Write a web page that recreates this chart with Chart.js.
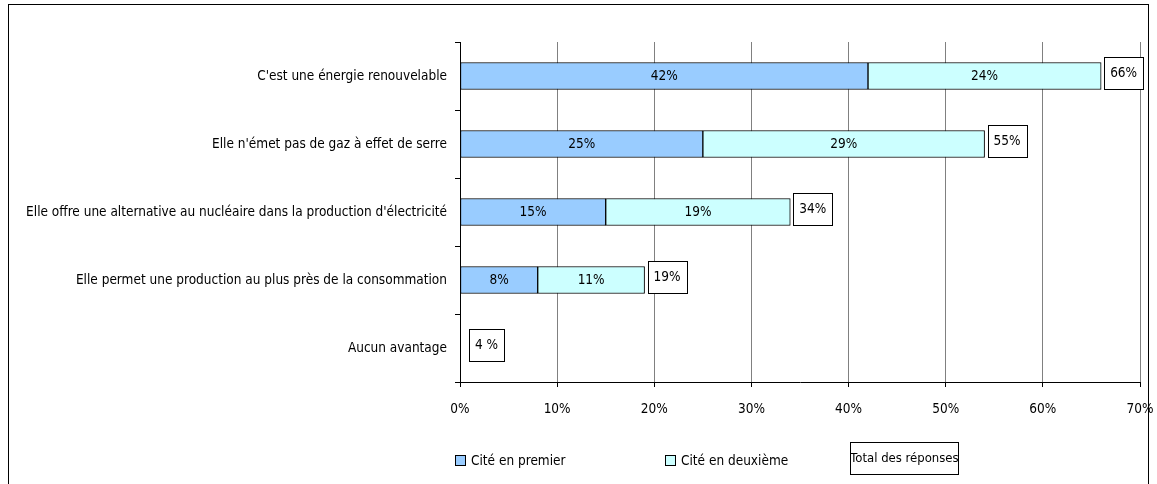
<!DOCTYPE html>
<html>
<head>
<meta charset="utf-8">
<script src="https://cdn.jsdelivr.net/npm/chart.js@4.4.0/dist/chart.umd.min.js"></script>
<style>
  html, body { margin: 0; padding: 0; background: #fff; }
  #wrap { width: 1157px; height: 484px; }
</style>
</head>
<body>
<div id="wrap"><canvas id="myChart" width="1157" height="484"></canvas></div>
<script>
var categories = [
    "C'est une énergie renouvelable",
    "Elle n'émet pas de gaz à effet de serre",
    "Elle offre une alternative au nucléaire dans la production d'électricité",
    "Elle permet une production au plus près de la consommation",
    "Aucun avantage"
];
var citePremier = [42, 25, 15, 8, 0];
var citeDeuxieme = [24, 29, 19, 11, 0];
var totalLabels = ['66%', '55%', '34%', '19%', '4 %'];
var xTicks = [0, 10, 20, 30, 40, 50, 60, 70];

var FONT = "'DejaVu Sans Condensed', 'Liberation Sans Narrow', sans-serif";
var FSIZE = 13.5;

// labels inside segments + boxed totals + frame + legend
var decorPlugin = {
    id: 'decor',
    afterDatasetsDraw: function(chart) {
        var ctx = chart.ctx;
        var x = chart.scales.x;
        ctx.save();
        ctx.font = FSIZE + 'px ' + FONT;
        ctx.textAlign = 'center';
        ctx.textBaseline = 'middle';
        ctx.fillStyle = '#000';
        chart.data.datasets.forEach(function(ds, di) {
            var meta = chart.getDatasetMeta(di);
            meta.data.forEach(function(bar, i) {
                if (!ds.data[i]) return;
                ctx.fillText(ds.data[i] + '%', (bar.x + bar.base) / 2, bar.y);
            });
        });
        // totals
        var meta0 = chart.getDatasetMeta(0);
        totalLabels.forEach(function(lbl, i) {
            var sum = citePremier[i] + citeDeuxieme[i];
            var end = x.getPixelForValue(sum);
            var cy = meta0.data[i].y - 3;
            var w = ctx.measureText(lbl).width + 12;
            var h = 32;
            var left = end + (sum ? 3 : 9);
            ctx.fillStyle = '#fff';
            ctx.fillRect(left, cy - h / 2, w, h);
            ctx.strokeStyle = '#000';
            ctx.lineWidth = 1;
            ctx.strokeRect(Math.round(left) + 0.5, Math.round(cy - h / 2) + 0.5, Math.round(w), h);
            ctx.fillStyle = '#000';
            ctx.fillText(lbl, left + w / 2, cy);
        });
        ctx.restore();
    },
    afterDraw: function(chart) {
        var ctx = chart.ctx;
        ctx.save();
        ctx.strokeStyle = '#000';
        ctx.lineWidth = 1;
        ctx.strokeRect(8.5, 4.5, 1140, 520);
        // legend
        ctx.font = FSIZE + 'px ' + FONT;
        ctx.textBaseline = 'middle';
        ctx.textAlign = 'left';
        var items = [
            { x: 455, text: 'Cité en premier', color: chart.data.datasets[0].backgroundColor },
            { x: 665, text: 'Cité en deuxième', color: chart.data.datasets[1].backgroundColor }
        ];
        items.forEach(function(it) {
            ctx.fillStyle = it.color;
            ctx.fillRect(it.x, 455, 10, 10);
            ctx.strokeStyle = '#000';
            ctx.strokeRect(it.x + 0.5, 455.5, 10, 10);
            ctx.fillStyle = '#000';
            ctx.fillText(it.text, it.x + 16, 461);
        });
        ctx.strokeRect(850.5, 442.5, 108, 32);
        ctx.font = '13px ' + FONT;
        ctx.textAlign = 'center';
        ctx.fillText('Total des réponses', 904.5, 459);
        ctx.restore();
    }
};

(function() {
    var ctx = document.getElementById('myChart').getContext('2d');
    var myChart = new Chart(ctx, {
        type: 'bar',
        data: {
            labels: categories,
            datasets: [{
                label: 'Cité en premier',
                data: citePremier,
                backgroundColor: '#99ccff',
                borderColor: '#000',
                borderWidth: 1,
                borderSkipped: false,
                barThickness: 27
            }, {
                label: 'Cité en deuxième',
                data: citeDeuxieme,
                backgroundColor: '#ccffff',
                borderColor: '#000',
                borderWidth: 1,
                borderSkipped: false,
                barThickness: 27
            }]
        },
        options: {
            indexAxis: 'y',
            responsive: false,
            animation: false,
            layout: { padding: { top: 42, right: 17, left: 0, bottom: 0 } },
            plugins: {
                legend: { display: false },
                tooltip: { enabled: false }
            },
            scales: {
                x: {
                    stacked: true,
                    min: 0,
                    max: 70,
                    afterBuildTicks: function(axis) {
                        axis.ticks = xTicks.map(function(v) { return { value: v }; });
                    },
                    afterFit: function(axis) {
                        axis.height = 102;
                        axis.paddingRight = 0;
                        axis.paddingLeft = 0;
                    },
                    ticks: {
                        color: '#000',
                        padding: 14,
                        font: { family: FONT, size: FSIZE },
                        callback: function(v) { return v + '%'; }
                    },
                    grid: { color: '#808080', tickColor: '#000', tickLength: 5 },
                    border: { color: '#000' }
                },
                y: {
                    stacked: true,
                    afterFit: function(axis) {
                        axis.width = 460;
                        axis.paddingTop = 0;
                        axis.paddingBottom = 0;
                    },
                    ticks: {
                        color: '#000',
                        padding: 8,
                        font: { family: FONT, size: FSIZE }
                    },
                    grid: { drawOnChartArea: false, offset: true, tickLength: 5, tickColor: '#000' },
                    border: { color: '#000' }
                }
            }
        },
        plugins: [decorPlugin]
    });
})();
</script>
</body>
</html>
